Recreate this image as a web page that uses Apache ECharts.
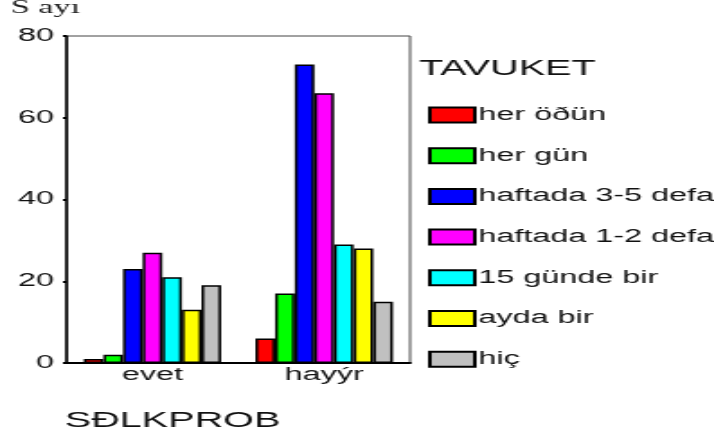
<!DOCTYPE html>
<html><head><meta charset="utf-8">
<script src="https://cdn.jsdelivr.net/npm/echarts@6/dist/echarts.min.js"></script>
<style>
html,body{margin:0;padding:0;background:#fff;overflow:hidden}
#wrap{width:714px;height:440px;overflow:hidden}
#c{width:397px;height:440px;transform:scaleX(1.7985);transform-origin:0 0}
</style></head><body><div id="wrap"><div id="c"></div></div>
<script>
const categories = ['evet', 'hayýr'];
const seriesNames = ['her öðün', 'her gün', 'haftada 3-5 defa', 'haftada 1-2 defa', '15 günde bir', 'ayda bir', 'hiç'];
const herOgun = [1, 6];
const herGun = [2, 17];
const haftada35 = [23, 73];
const haftada12 = [27, 66];
const onbesGunde = [21, 29];
const aydaBir = [13, 28];
const hic = [19, 15];
const yTicks = [0, 20, 40, 60, 80];
const colors = ['#ff0000', '#00ff00', '#0000ff', '#ff00ff', '#00ffff', '#ffff00', '#c0c0c0'];
const values = [herOgun, herGun, haftada35, haftada12, onbesGunde, aydaBir, hic];

const chart = echarts.init(document.getElementById('c'), null, {renderer: 'canvas'});
const series = seriesNames.map((n, i) => ({
  name: n,
  type: 'bar',
  data: values[i],
  barGap: '0%',
  barCategoryGap: '20%',
  itemStyle: {color: colors[i], borderColor: '#000', borderWidth: 1.5}
}));
chart.setOption({
  animation: false,
  backgroundColor: '#fff',
  color: colors,
  title: [
    {text: 'S ayı', left: 6, top: -1, padding: 0,
     textStyle: {fontFamily: 'Liberation Serif', fontWeight: 'normal', fontSize: 19, color: '#222'}},
    {text: 'TAVUKET', left: 233, top: 58, padding: 0,
     textStyle: {fontFamily: 'Liberation Sans', fontWeight: 'normal', fontSize: 22, color: '#111'}},
    {text: 'SÐLKPROB', left: 36, top: 410, padding: 0,
     textStyle: {fontFamily: 'Liberation Sans', fontWeight: 'normal', fontSize: 22, color: '#111'}}
  ],
  legend: {
    orient: 'vertical', left: 238, top: 106, padding: 0,
    itemWidth: 25, itemHeight: 15, itemGap: 22.7,
    icon: 'rect',
    textStyle: {fontFamily: 'Liberation Sans', fontSize: 18, color: '#111', lineHeight: 17, padding: [0, 0, 0, -3]},
    data: seriesNames
  },
  grid: {left: 37, right: 169, top: 36, bottom: 77, show: true, borderColor: '#444', borderWidth: 1, containLabel: false},
  xAxis: {
    type: 'category', data: categories,
    axisLine: {lineStyle: {color: '#000', width: 2}},
    axisTick: {alignWithLabel: true, length: 3, lineStyle: {color: '#000', width: 2}},
    axisLabel: {margin: 3, fontFamily: 'Liberation Sans', fontSize: 18, color: '#111'}
  },
  yAxis: {
    type: 'value', min: 0, max: 80, interval: 20,
    splitLine: {show: false},
    axisLine: {show: true, lineStyle: {color: '#000', width: 1.5}},
    axisTick: {show: true, length: 2, lineStyle: {color: '#000', width: 2}},
    axisLabel: {margin: 7, fontFamily: 'Liberation Sans', fontSize: 18, color: '#111',
      formatter: v => yTicks.includes(v) ? String(v) : ''}
  },
  series: series
});
</script></body></html>
